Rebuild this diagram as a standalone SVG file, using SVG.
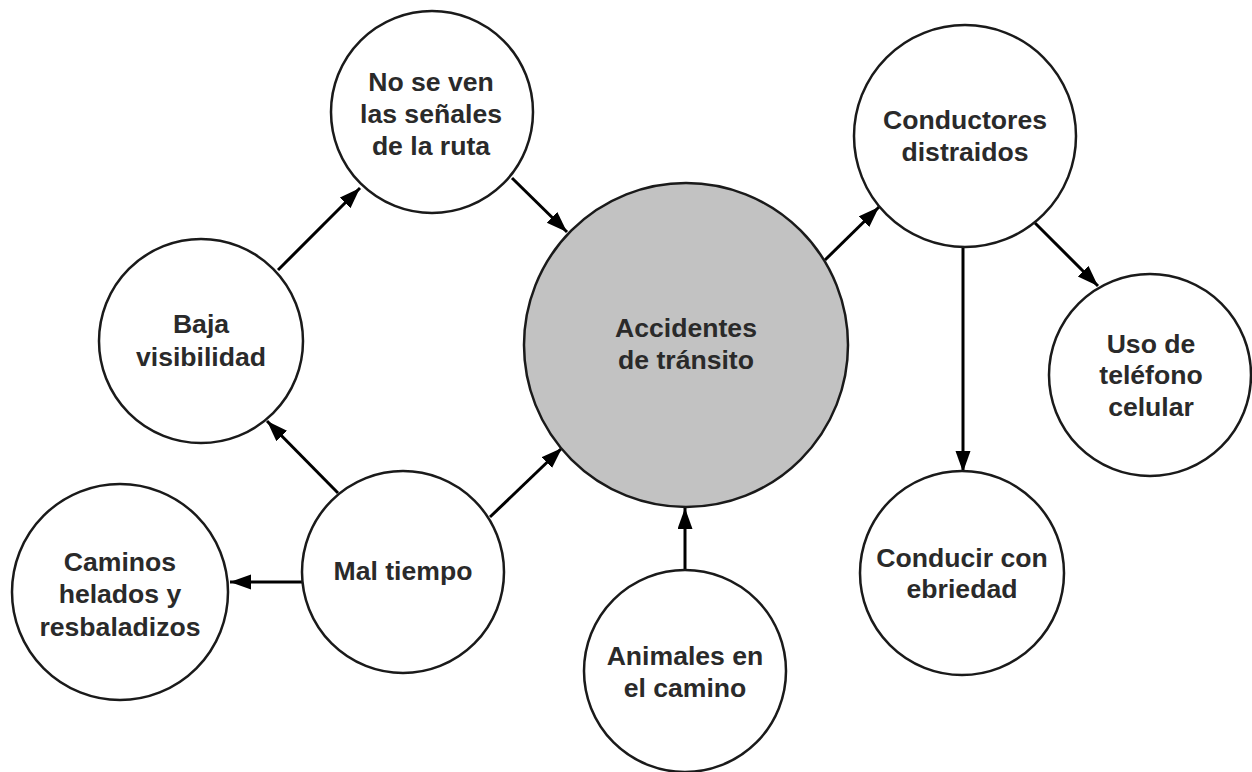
<svg xmlns="http://www.w3.org/2000/svg" width="1252" height="772" viewBox="0 0 1252 772">
<defs>
<style>
.node{fill:#ffffff;stroke:#1a1a1a;stroke-width:2.5}
.main{fill:#c2c2c2;stroke:#1a1a1a;stroke-width:2.5}
.lbl{font-family:"Liberation Sans",Arial,sans-serif;font-weight:bold;font-size:26.6px;fill:#2a2a2a;text-anchor:middle}
.edge{stroke:#000;stroke-width:3;fill:none;marker-end:url(#ah)}
</style>
<marker id="ah" markerUnits="userSpaceOnUse" markerWidth="24" markerHeight="16" refX="21" refY="7.5" orient="auto">
<path d="M0,0 L21,7.5 L0,15 Z" fill="#000"/>
</marker>
</defs>
<rect width="1252" height="772" fill="#ffffff"/>
<g id="connectors">
<line class="edge" x1="278" y1="270" x2="360" y2="188"/>
<line class="edge" x1="512" y1="178" x2="567" y2="232"/>
<line class="edge" x1="338" y1="493" x2="267" y2="421"/>
<line class="edge" x1="490" y1="517" x2="562" y2="448"/>
<line class="edge" x1="303" y1="582" x2="230" y2="582"/>
<line class="edge" x1="685" y1="571" x2="685" y2="508"/>
<line class="edge" x1="825" y1="260" x2="879" y2="207"/>
<line class="edge" x1="1035" y1="223" x2="1098" y2="286"/>
<line class="edge" x1="963" y1="247" x2="963" y2="472"/>
</g>
<g id="central">
<circle class="main" cx="686" cy="345" r="162"/>
<text class="lbl" x="686" y="337">Accidentes</text>
<text class="lbl" x="686" y="369">de tránsito</text>
</g>
<g id="senales">
<circle class="node" cx="432" cy="112" r="101"/>
<text class="lbl" x="431" y="91">No se ven</text>
<text class="lbl" x="431" y="123">las señales</text>
<text class="lbl" x="431" y="155">de la ruta</text>
</g>
<g id="baja">
<circle class="node" cx="201" cy="341" r="102"/>
<text class="lbl" x="201" y="333">Baja</text>
<text class="lbl" x="201" y="366">visibilidad</text>
</g>
<g id="caminos">
<circle class="node" cx="120" cy="592" r="108"/>
<text class="lbl" x="120" y="571">Caminos</text>
<text class="lbl" x="120" y="603">helados y</text>
<text class="lbl" x="120" y="636">resbaladizos</text>
</g>
<g id="maltiempo">
<circle class="node" cx="403" cy="572" r="101"/>
<text class="lbl" x="403" y="580">Mal tiempo</text>
</g>
<g id="animales">
<circle class="node" cx="685" cy="671" r="101"/>
<text class="lbl" x="685" y="665">Animales en</text>
<text class="lbl" x="685" y="697">el camino</text>
</g>
<g id="conductores">
<circle class="node" cx="965" cy="136" r="111"/>
<text class="lbl" x="965" y="129">Conductores</text>
<text class="lbl" x="965" y="161">distraidos</text>
</g>
<g id="uso">
<circle class="node" cx="1150" cy="375" r="101"/>
<text class="lbl" x="1151" y="353">Uso de</text>
<text class="lbl" x="1151" y="384">teléfono</text>
<text class="lbl" x="1151" y="416">celular</text>
</g>
<g id="conducir">
<circle class="node" cx="962" cy="573" r="102"/>
<text class="lbl" x="962" y="567">Conducir con</text>
<text class="lbl" x="962" y="598">ebriedad</text>
</g>
</svg>
